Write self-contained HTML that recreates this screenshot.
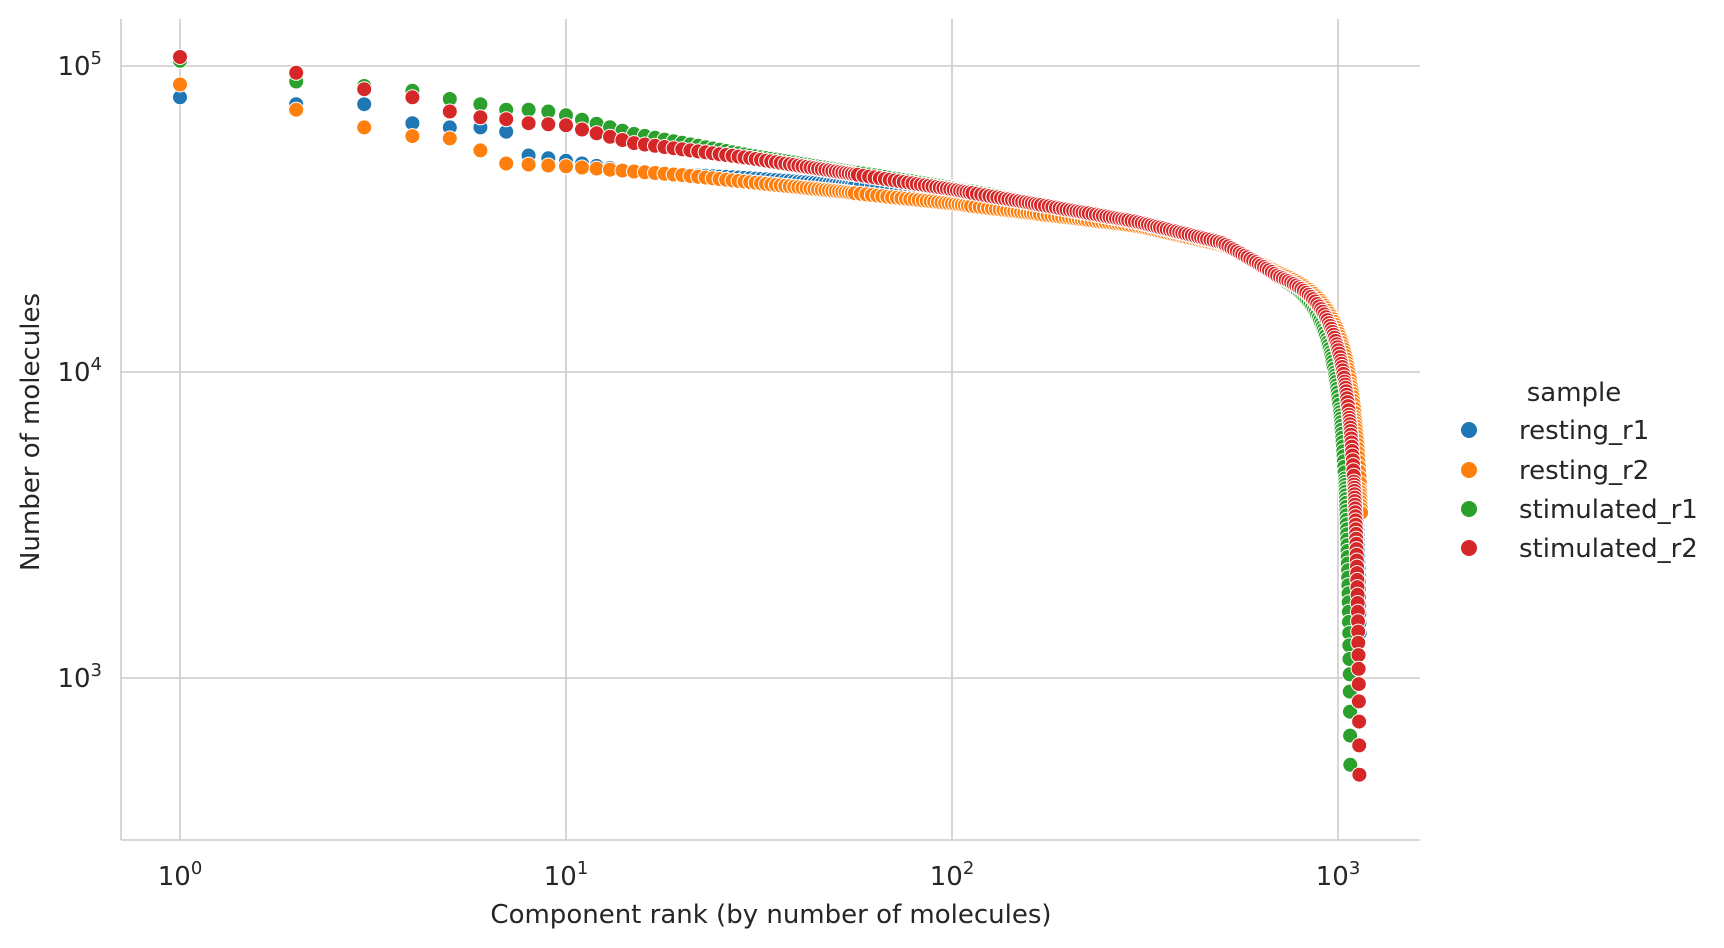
<!DOCTYPE html>
<html><head><meta charset="utf-8">
<style>
html,body{margin:0;padding:0;background:#fff;}
svg text{font-family:"DejaVu Sans","Liberation Sans",sans-serif;fill:#262626;}
</style></head>
<body>
<svg id="s" width="1724" height="943" xmlns="http://www.w3.org/2000/svg">
<rect width="1724" height="943" fill="#fff"/>
<g id="grid" stroke="#cccccc" stroke-width="1.6" fill="none">
<line x1="180" y1="19" x2="180" y2="840"/>
<line x1="566" y1="19" x2="566" y2="840"/>
<line x1="952" y1="19" x2="952" y2="840"/>
<line x1="1338" y1="19" x2="1338" y2="840"/>
<line x1="121" y1="66" x2="1420" y2="66"/>
<line x1="121" y1="372" x2="1420" y2="372"/>
<line x1="121" y1="678" x2="1420" y2="678"/>
<line x1="121" y1="19" x2="121" y2="840"/>
<line x1="121" y1="840" x2="1420" y2="840"/>
</g>
<g id="pts"></g>
<g font-size="26">
<text x="180" y="885" text-anchor="middle">10<tspan dy="-11" font-size="18">0</tspan></text>
<text x="566" y="885" text-anchor="middle">10<tspan dy="-11" font-size="18">1</tspan></text>
<text x="952" y="885" text-anchor="middle">10<tspan dy="-11" font-size="18">2</tspan></text>
<text x="1338" y="885" text-anchor="middle">10<tspan dy="-11" font-size="18">3</tspan></text>
<text x="102" y="75" text-anchor="end">10<tspan dy="-11" font-size="18">5</tspan></text>
<text x="102" y="381" text-anchor="end">10<tspan dy="-11" font-size="18">4</tspan></text>
<text x="102" y="687" text-anchor="end">10<tspan dy="-11" font-size="18">3</tspan></text>
<text x="771" y="923" text-anchor="middle">Component rank (by number of molecules)</text>
<text transform="translate(39,432) rotate(-90)" text-anchor="middle">Number of molecules</text>
<text x="1574" y="401" text-anchor="middle">sample</text>
<circle cx="1469" cy="430" r="8" fill="#1f77b4"/>
<circle cx="1469" cy="470" r="8" fill="#ff7f0e"/>
<circle cx="1469" cy="509" r="8" fill="#2ca02c"/>
<circle cx="1469" cy="548" r="8" fill="#d62728"/>
<text x="1519" y="439">resting_r1</text>
<text x="1519" y="479">resting_r2</text>
<text x="1519" y="518">stimulated_r1</text>
<text x="1519" y="557">stimulated_r2</text>
</g>
</svg>
<script>
var T=[[300,31e3],[500,26.5e3],[700,21e3],[2000,14e3]];
var S=[
 {c:"#1f77b4",N:1150,min:1300,a:[[1,79e3],[2,75e3],[3,75e3],[4,65e3],[5,63e3],[6,63e3],[7,61e3],[8,51e3],[10,49e3],[15,45e3],[30,43e3],[100,38.5e3]].concat(T)},
 {c:"#ff7f0e",N:1180,min:3400,a:[[1,87e3],[2,72e3],[3,63e3],[4,59e3],[5,58e3],[6,53e3],[7,48e3],[10,47e3],[20,44e3],[50,39e3],[100,35.5e3],[300,30e3],[500,26e3],[700,21.5e3],[2000,14e3]]},
 {c:"#2ca02c",N:1080,min:450,a:[[1,104e3],[2,89e3],[3,86e3],[4,83e3],[5,78e3],[6,75e3],[7,72e3],[8,72e3],[9,71e3],[10,69e3],[15,60e3],[30,51e3],[100,40e3]].concat(T)},
 {c:"#d62728",N:1140,min:390,a:[[1,107e3],[2,95e3],[3,84e3],[4,79e3],[5,71e3],[6,68e3],[7,67e3],[8,65e3],[10,64e3],[15,56e3],[30,50e3],[100,39.5e3]].concat(T)}
];
function interp(a,r){var lr=Math.log10(r);for(var i=0;i<a.length-1;i++){var x0=Math.log10(a[i][0]),x1=Math.log10(a[i+1][0]);if(lr<=x1){var t=(lr-x0)/(x1-x0);return Math.pow(10,Math.log10(a[i][1])*(1-t)+Math.log10(a[i+1][1])*t);}}return a[a.length-1][1];}
var h="";
S.forEach(function(s){var px=-99,py=-99;for(var r=1;r<s.N;r++){var f=1-Math.pow(r/s.N,8);var v=interp(s.a,r)*(r<=10?1:f);if(v<s.min)break;var x=180+386*Math.log10(r),y=66+306*(5-Math.log10(v));if(Math.hypot(x-px,y-py)<3)continue;px=x;py=y;h+='<circle cx="'+x.toFixed(1)+'" cy="'+y.toFixed(1)+'" r="7.5" fill="'+s.c+'" stroke="#fff" stroke-width="1"/>';}});
document.getElementById("pts").innerHTML=h;
</script>
</body></html>
